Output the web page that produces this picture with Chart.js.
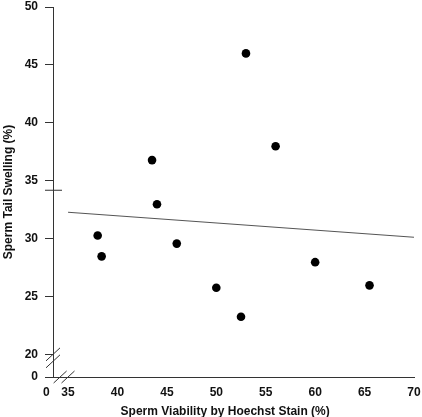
<!DOCTYPE html>
<html>
<head>
<meta charset="utf-8">
<script src="https://cdn.jsdelivr.net/npm/chart.js@4/dist/chart.umd.min.js"></script>
<style>
	html, body { margin: 0; padding: 0; background: #fff; }
	canvas { display: block; }
</style>
</head>
<body>
<canvas id="chart" width="422" height="417"></canvas>
<script>
// data
const viability = [53.0, 56.0, 43.5, 44.0, 38.0, 38.4, 46.0, 50.0, 52.5, 60.0, 65.5];
const swelling = [46.0, 38.0, 36.8, 33.0, 30.3, 28.5, 29.6, 25.8, 23.3, 28.0, 26.0];

// regression line ends
const fitX = [35, 70];
const fitY = [32.3, 30.15];

// broken axes: the "0" tick sits just below the break
const xTicks = [33.48, 35, 40, 45, 50, 55, 60, 65, 70];
const xTickLabels = ['0', '35', '40', '45', '50', '55', '60', '65', '70'];
const yTicks = [18.1, 20, 25, 30, 35, 40, 45, 50];
const yTickLabels = ['0', '20', '25', '30', '35', '40', '45', '50'];

const FONT = { family: '"Liberation Sans", Arial, sans-serif', size: 12, weight: 'bold' };
const AXIS = '#333';

// draw the // break marks on both axes
const axisBreaks = {
	id: 'axisBreaks',
	afterDraw(chart) {
		const { ctx, chartArea: a } = chart;
		const x = chart.scales.x;
		const y = chart.scales.y;
		const seg = (x1, y1, x2, y2) => {
			ctx.beginPath();
			ctx.moveTo(x1, y1);
			ctx.lineTo(x2, y2);
			ctx.stroke();
		};
		ctx.save();
		ctx.strokeStyle = AXIS;
		ctx.lineWidth = 1;
		[20.05, 19.45].forEach((v) => {
			const py = y.getPixelForValue(v);
			seg(a.left - 7, py + 6.5, a.left + 7, py - 6.5);
		});
		[34.2, 35.0].forEach((v) => {
			const px = x.getPixelForValue(v);
			seg(px - 6.5, a.bottom + 6, px + 6.5, a.bottom - 6);
		});
		const pm = y.getPixelForValue(34.2);
		seg(a.left - 8, pm, a.left + 9, pm);
		ctx.restore();
	},
};

new Chart(document.getElementById('chart'), {
	type: 'scatter',
	data: {
		datasets: [
			{
				data: viability.map((v, i) => ({ x: v, y: swelling[i] })),
				pointRadius: 4.3,
				pointBackgroundColor: '#000',
				pointBorderWidth: 0,
			},
			{
				type: 'line',
				data: fitX.map((v, i) => ({ x: v, y: fitY[i] })),
				borderColor: '#555',
				borderWidth: 1.1,
				pointRadius: 0,
			},
		],
	},
	options: {
		responsive: false,
		animation: false,
		layout: { padding: { top: 7, right: 8, bottom: 0, left: 0 } },
		plugins: { legend: { display: false }, tooltip: { enabled: false } },
		scales: {
			x: {
				type: 'linear',
				min: xTicks[0],
				max: 70,
				afterBuildTicks: (s) => { s.ticks = xTicks.map((v) => ({ value: v })); },
				afterFit: (s) => {
					s.height = 40;
					s.paddingLeft = 0;
					s.paddingRight = 0;
				},
				grid: { display: false, drawTicks: false },
				border: { display: true, color: AXIS, width: 1 },
				ticks: {
					callback: (v, i) => (i === 0 ? xTickLabels[i] + '    ' : xTickLabels[i]),
					padding: 8,
					font: FONT,
					color: '#111',
					maxRotation: 0,
					autoSkip: false,
				},
				title: {
					display: true,
					text: 'Sperm Viability by Hoechst Stain (%)     ',
					font: FONT,
					color: '#111',
					padding: { top: 0, bottom: -2 },
				},
			},
			y: {
				type: 'linear',
				min: yTicks[0],
				max: 50,
				afterBuildTicks: (s) => { s.ticks = yTicks.map((v) => ({ value: v })); },
				afterFit: (s) => {
					s.width = 53;
					s.paddingTop = 0;
					s.paddingBottom = 0;
				},
				grid: { drawOnChartArea: false, drawTicks: true, tickLength: 8, color: AXIS },
				border: { display: true, color: AXIS, width: 1 },
				ticks: {
					callback: (v, i) => yTickLabels[i],
					padding: 7,
					font: FONT,
					color: '#111',
					autoSkip: false,
				},
				title: {
					display: true,
					text: 'Sperm Tail Swelling (%)',
					font: FONT,
					color: '#111',
					padding: { top: 1, bottom: 0 },
				},
			},
		},
	},
	plugins: [axisBreaks],
});
</script>
</body>
</html>
